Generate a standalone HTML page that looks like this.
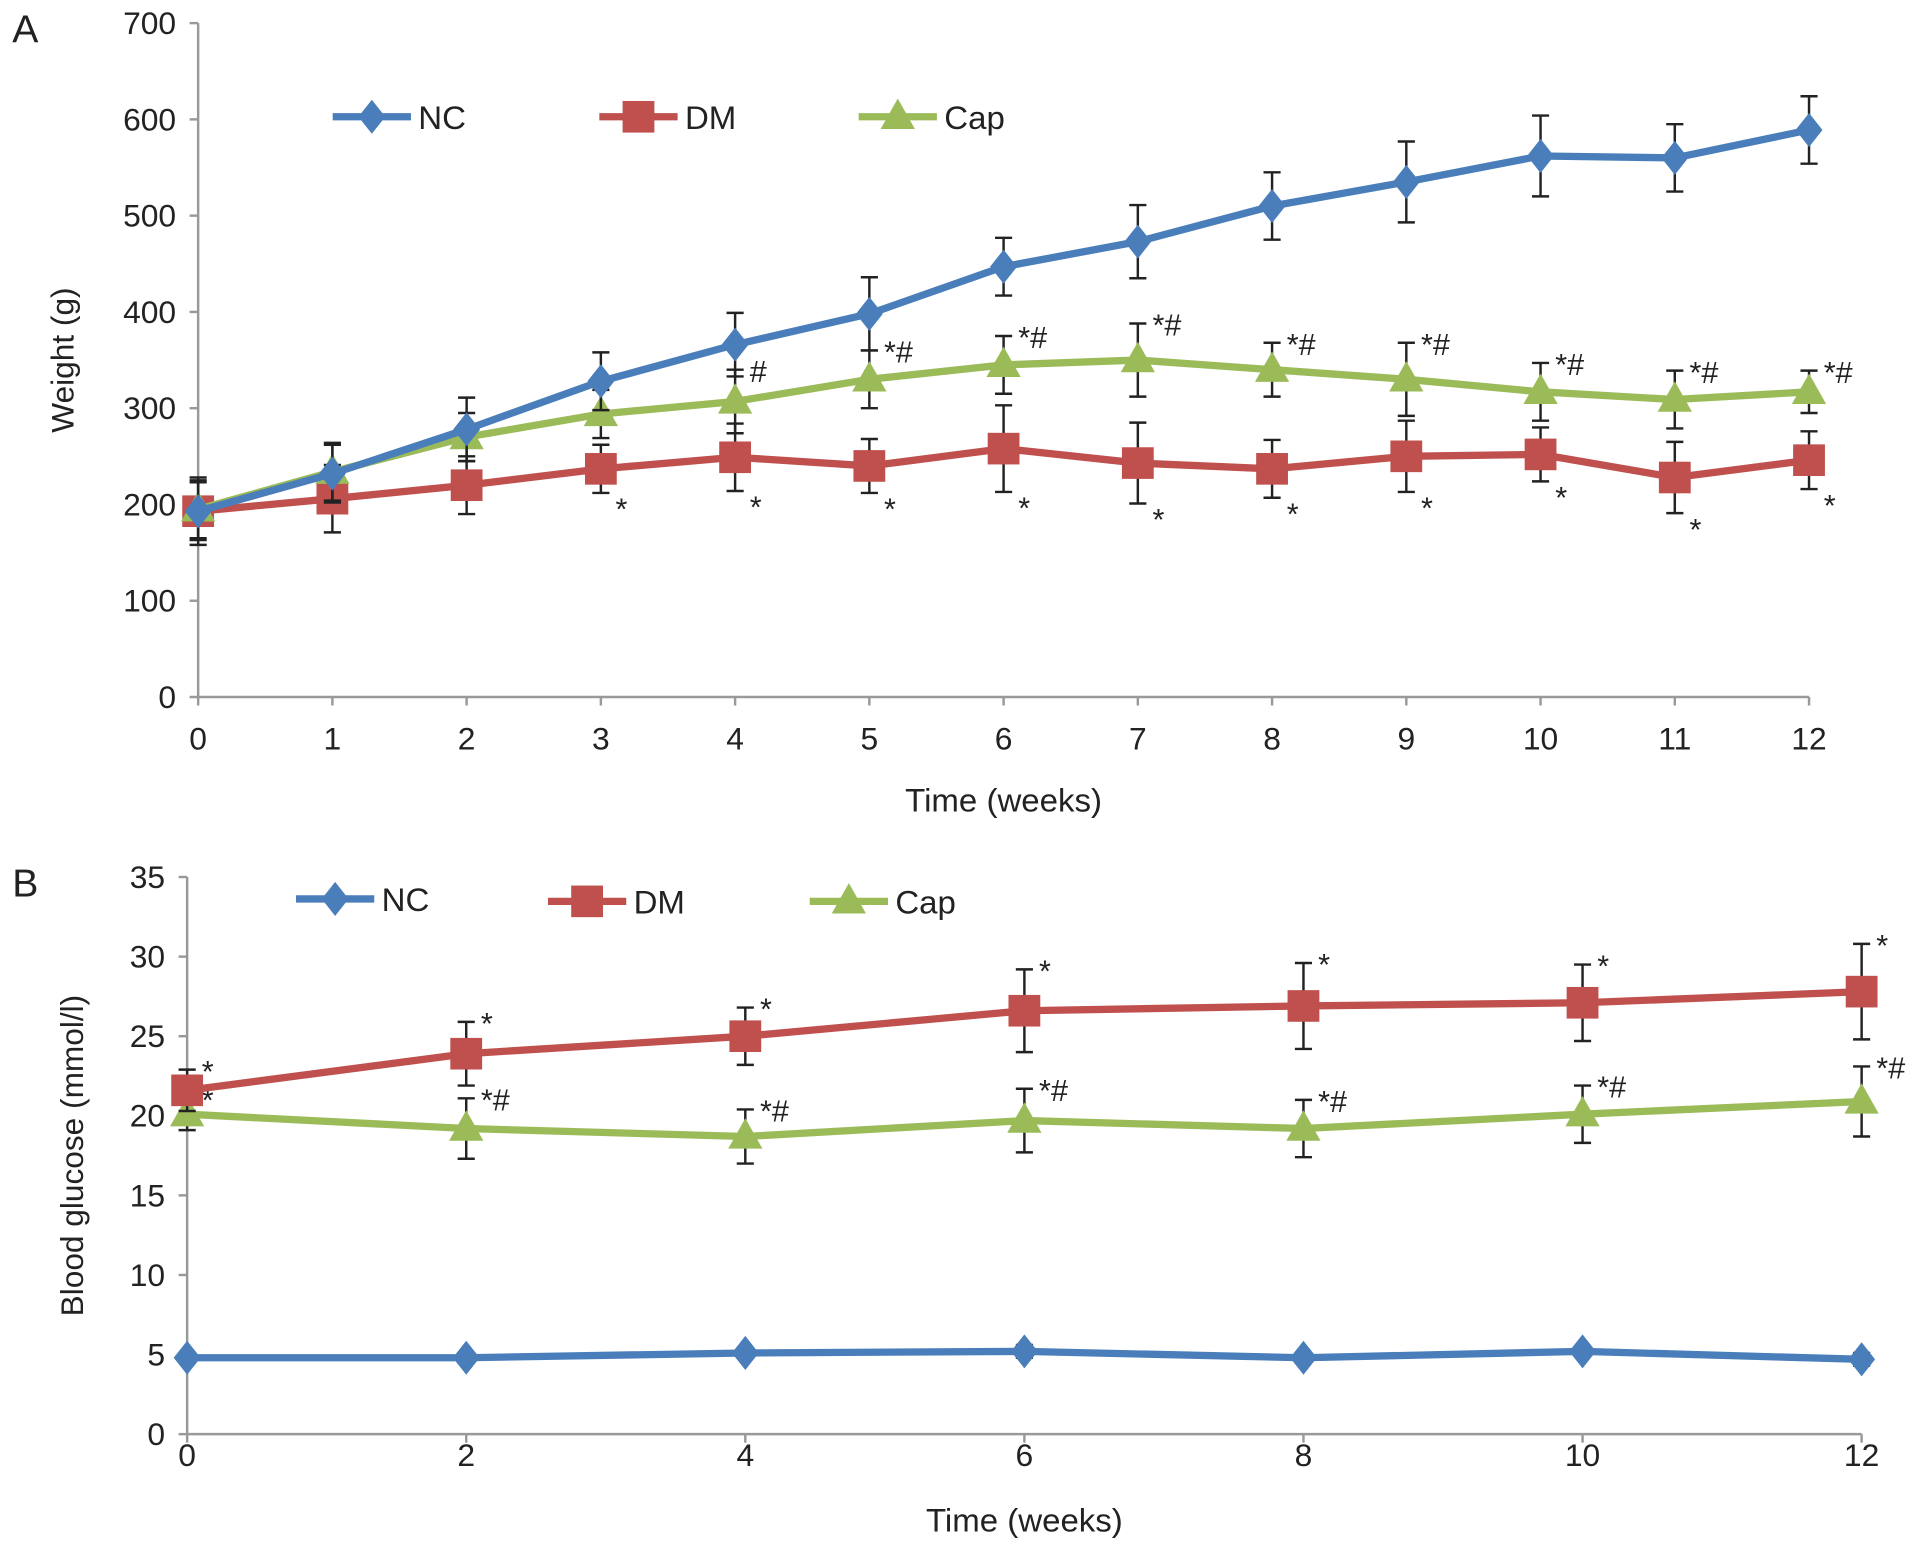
<!DOCTYPE html>
<html><head><meta charset="utf-8">
<style>
html,body{margin:0;padding:0;background:#fff;}
svg{display:block;}
text{font-family:"Liberation Sans",Arial,sans-serif;fill:#222;}
</style></head>
<body>
<svg id="fig" width="1913" height="1557" viewBox="0 0 1564 1280" preserveAspectRatio="none" xmlns="http://www.w3.org/2000/svg"></svg>
<script>
// Panel A data
const weeksA = [0,1,2,3,4,5,6,7,8,9,10,11,12];
const ncA = [193,232,278,328,366,398,447,473,510,535,562,560,589];
const ncAErr = [30,30,33,30,33,38,30,38,35,42,42,35,35];
const dmA = [193,206,220,237,249,240,258,243,237,250,252,228,246];
const dmAErr = [35,35,30,25,35,28,45,42,30,37,28,37,30];
const capA = [195,234,270,294,307,330,345,350,340,330,317,309,317];
const capAErr = [30,30,25,25,33,30,30,38,28,38,30,30,22];
const dmAMarks = ["","","","*","*","*","*","*","*","*","*","*","*"];
const capAMarks = ["","","","","#","*#","*#","*#","*#","*#","*#","*#","*#"];
const yTicksA = [0,100,200,300,400,500,600,700];
const xTicksA = [0,1,2,3,4,5,6,7,8,9,10,11,12];
// Panel B data
const weeksB = [0,2,4,6,8,10,12];
const ncB = [4.8,4.8,5.1,5.2,4.8,5.2,4.7];
const ncBErr = [0.3,0.3,0.3,0.4,0.3,0.3,0.4];
const dmB = [21.6,23.9,25.0,26.6,26.9,27.1,27.8];
const dmBErr = [1.3,2.0,1.8,2.6,2.7,2.4,3.0];
const capB = [20.1,19.2,18.7,19.7,19.2,20.1,20.9];
const capBErr = [1.0,1.9,1.7,2.0,1.8,1.8,2.2];
const dmBMarks = ["*","*","*","*","*","*","*"];
const capBMarks = ["*","*#","*#","*#","*#","*#","*#"];
const yTicksB = [0,5,10,15,20,25,30,35];
const xTicksB = [0,2,4,6,8,10,12];

const NS = "http://www.w3.org/2000/svg";
const svg = document.getElementById('fig');
const BLUE="#4a7ebb", RED="#c0504d", GREEN="#9bbb59";
function mk(tag, attrs, parent){
  const e=document.createElementNS(NS,tag);
  for(const k in attrs) e.setAttribute(k,attrs[k]);
  (parent||svg).appendChild(e); return e;
}
function txt(s, attrs, parent){const t=mk('text',attrs,parent); t.textContent=s; return t;}

function marker(g, shape, x, y, color){
  let m;
  if(shape==='diamond') m=mk('polygon',{points:`${x},${y-14} ${x+11},${y} ${x},${y+14} ${x-11},${y}`,fill:color},g);
  else if(shape==='square') m=mk('rect',{x:x-13,y:y-13,width:26,height:26,fill:color},g);
  else m=mk('polygon',{points:`${x},${y-15} ${x+14},${y+10} ${x-14},${y+10}`,fill:color},g);
  
  
}

function panel(cfg){
  const g=mk('g',{});
  
  
  const xS=v=>cfg.x0+(v-cfg.xmin)/(cfg.xmax-cfg.xmin)*(cfg.x1-cfg.x0);
  const yS=v=>cfg.y0-(v-cfg.ymin)/(cfg.ymax-cfg.ymin)*(cfg.y0-cfg.y1);
  const ya=mk('line',{x1:cfg.x0,y1:cfg.y1,x2:cfg.x0,y2:cfg.y0,stroke:'#999','stroke-width':2},g);
  
  
  const xa=mk('line',{x1:cfg.x0,y1:cfg.y0,x2:cfg.x1,y2:cfg.y0,stroke:'#999','stroke-width':2},g);
  
  
  cfg.yTicks.forEach(v=>{
    mk('line',{x1:cfg.x0-7,y1:yS(v),x2:cfg.x0,y2:yS(v),stroke:'#999','stroke-width':2},g);
    const t=txt(String(v),{x:cfg.x0-18,y:yS(v)+9,'text-anchor':'end','font-size':26},g);
    
    
  });
  cfg.xTicks.forEach(v=>{
    mk('line',{x1:xS(v),y1:cfg.y0,x2:xS(v),y2:cfg.y0+7,stroke:'#999','stroke-width':2},g);
    const t=txt(String(v),{x:xS(v),y:cfg.y0+cfg.tickOff,'text-anchor':'middle','font-size':26},g);
    
    
  });
  const xt=txt('Time (weeks)',{x:(cfg.x0+cfg.x1)/2,y:cfg.y0+cfg.titleOff,'text-anchor':'middle','font-size':27},g);
  
  
  const cy=(cfg.y0+cfg.y1)/2;
  const yt=txt(cfg.ytitle,{x:cfg.ytx,y:cy,'text-anchor':'middle','font-size':26,transform:`rotate(-90 ${cfg.ytx} ${cy})`},g);
  
  
  const pl=txt(cfg.label,{x:10,y:cfg.y1+16,'font-size':32},g);
  
  
  cfg.series.forEach(s=>{
    const sg=mk('g',{},g);
    
    
    s.vals.forEach((v,i)=>{
      const x=xS(cfg.xs[i]), t=yS(v+s.err[i]), b=yS(v-s.err[i]);
      const eb=mk('path',{d:`M${x},${t}V${b}M${x-7},${t}H${x+7}M${x-7},${b}H${x+7}`,stroke:'#222','stroke-width':2,fill:'none'},sg);
      
      
    });
    const pts=s.vals.map((v,i)=>`${xS(cfg.xs[i])},${yS(v)}`).join(' ');
    const ln=mk('polyline',{points:pts,fill:'none',stroke:s.color,'stroke-width':6,'stroke-linejoin':'round'},sg);
    
    
    s.vals.forEach((v,i)=>marker(sg,s.shape,xS(cfg.xs[i]),yS(v),s.color));
    if(s.marks){
      s.vals.forEach((v,i)=>{
        if(!s.marks[i]) return;
        const yy = s.below ? yS(v-s.err[i])+22 : yS(v+s.err[i])+10;
        const m=txt(s.marks[i],{x:xS(cfg.xs[i])+12,y:yy,'font-size':25},sg);
        
        
      });
    }
  });
  cfg.legend.forEach(l=>{
    const lg=mk('g',{},g);
    
    
    mk('line',{x1:l.x,y1:l.y,x2:l.x+64,y2:l.y,stroke:l.color,'stroke-width':6},lg);
    marker(lg,l.shape,l.x+32,l.y,l.color);
    txt(l.t,{x:l.x+70,y:l.y+10,'font-size':27},lg);
  });
}

panel({name:'weight-chart',label:'A',x0:162,x1:1479,y0:573,y1:19,xmin:0,xmax:12,ymin:0,ymax:700,
  xs:weeksA,yTicks:yTicksA,xTicks:xTicksA,ytitle:'Weight (g)',ytx:60,tickOff:43,titleOff:94,
  series:[
    {name:'dm-series',vals:dmA,err:dmAErr,color:RED,shape:'square',marks:dmAMarks,below:true},
    {name:'cap-series',vals:capA,err:capAErr,color:GREEN,shape:'triangle',marks:capAMarks},
    {name:'nc-series',vals:ncA,err:ncAErr,color:BLUE,shape:'diamond'}
  ],
  legend:[{x:272,y:96,color:BLUE,shape:'diamond',t:'NC'},{x:490,y:96,color:RED,shape:'square',t:'DM'},{x:702,y:96,color:GREEN,shape:'triangle',t:'Cap'}]
});
panel({name:'glucose-chart',label:'B',x0:153,x1:1522,y0:1179,y1:721,xmin:0,xmax:12,ymin:0,ymax:35,
  xs:weeksB,yTicks:yTicksB,xTicks:xTicksB,ytitle:'Blood glucose (mmol/l)',ytx:68,tickOff:26,titleOff:80,
  series:[
    {name:'nc-series',vals:ncB,err:ncBErr,color:BLUE,shape:'diamond'},
    {name:'cap-series',vals:capB,err:capBErr,color:GREEN,shape:'triangle',marks:capBMarks},
    {name:'dm-series',vals:dmB,err:dmBErr,color:RED,shape:'square',marks:dmBMarks}
  ],
  legend:[{x:242,y:739,color:BLUE,shape:'diamond',t:'NC'},{x:448,y:741,color:RED,shape:'square',t:'DM'},{x:662,y:741,color:GREEN,shape:'triangle',t:'Cap'}]
});
</script>
</body></html>
